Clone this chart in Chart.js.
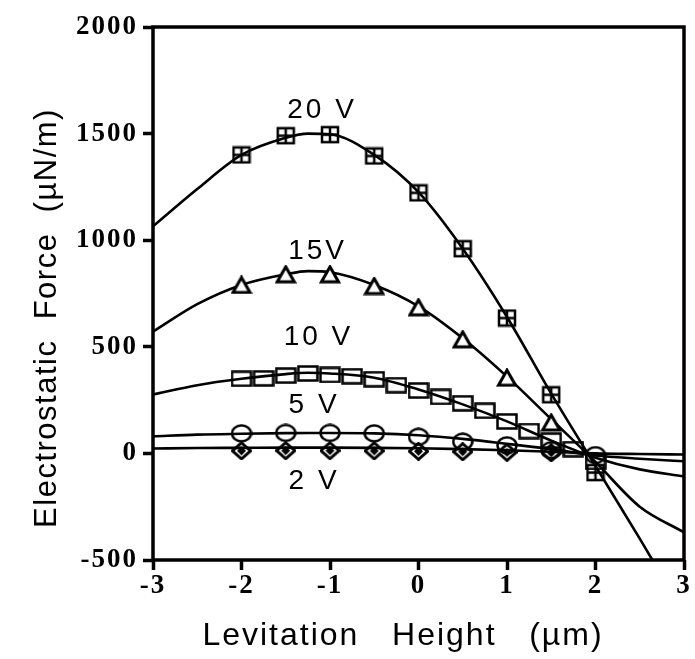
<!DOCTYPE html>
<html>
<head>
<meta charset="utf-8">
<script src="https://cdn.jsdelivr.net/npm/chart.js@4.4.1/dist/chart.umd.min.js"></script>
<style>
  html, body { margin: 0; padding: 0; background: #fff; }
  #wrap { width: 695px; height: 659px; position: relative; }
</style>
</head>
<body>
<div id="wrap"><canvas id="forceChart"></canvas></div>
<script>
'use strict';

// --- data ---
const curveX = [-3, -2.5, -2, -1.5, -1.25, -1, -0.5, 0, 0.5, 1, 1.5, 2, 2.5, 3];
const curve20 = [1065, 1240, 1400, 1480, 1500, 1497, 1400, 1225, 960, 640, 280, -60, -400, -750];
const curve15 = [571, 700, 790, 840, 855, 850, 790, 690, 540, 360, 160, -40, -250, -370];
const curve10 = [276, 320, 350, 372, 378, 375, 355, 300, 230, 150, 60, -20, -75, -108];
const curve5 = [80, 88, 92, 95, 96, 96, 94, 85, 68, 45, 20, -10, -25, -37];
const curve2 = [23, 25, 26, 27, 27, 27, 26, 24, 20, 15, 8, 0, -3, -5];

const halfStepX = [-2, -1.5, -1, -0.5, 0, 0.5, 1, 1.5, 2];
const shortHalfStepX = [-2, -1.5, -1, -0.5, 0, 0.5, 1, 1.5];
const quarterStepX = [-2, -1.75, -1.5, -1.25, -1, -0.75, -0.5, -0.25, 0, 0.25, 0.5, 0.75, 1, 1.25, 1.5, 1.75, 2];

const meas20 = [1400, 1490, 1495, 1395, 1222, 960, 635, 275, -90];
const meas15 = [790, 840, 840, 785, 685, 535, 355, 145];
const meas10 = [350, 352, 365, 375, 368, 362, 348, 320, 295, 265, 235, 200, 150, 105, 60, 20, -40];
const meas5 = [94, 96, 96, 94, 78, 55, 38, 15, -8];
const meas2 = [12, 13, 13, 12, 10, 8, 5, 3];

const voltLabels = ['20 V', '15V', '10 V', '5 V', '2 V'];
const voltLabelX = [-1.09, -1.14, -1.13, -1.18, -1.18];
const voltLabelY = [1611, 950, 543, 225, -131];

const xTicks = [-3, -2, -1, 0, 1, 2, 3];
const yTicks = [-500, 0, 500, 1000, 1500, 2000];

const toPoints = (xs, ys) => xs.map((x, i) => ({ x: x, y: ys[i] }));

// --- marker glyphs (the scan is slightly stretched sideways) ---
function makeMarker(w, h, draw) {
    const c = document.createElement('canvas');
    c.width = w; c.height = h;
    const g = c.getContext('2d');
    g.strokeStyle = '#000';
    g.fillStyle = '#000';
    g.lineWidth = 2.5;
    draw(g, w, h);
    return c;
}

const plusSquare = makeMarker(20, 19, (g, w, h) => {
    g.strokeRect(2, 2, w - 4, h - 4);
    g.beginPath();
    g.moveTo(w / 2, 2); g.lineTo(w / 2, h - 2);
    g.moveTo(2, h / 2); g.lineTo(w - 2, h / 2);
    g.stroke();
});
const triangle = makeMarker(22, 19, (g, w, h) => {
    g.lineWidth = 3;
    g.beginPath();
    g.moveTo(w / 2, 2); g.lineTo(w - 2.5, h - 2); g.lineTo(2.5, h - 2);
    g.closePath();
    g.fillStyle = '#fff';
    g.fill();
    g.stroke();
});
const openSquare = makeMarker(22, 17, (g, w, h) => {
    g.strokeRect(1.5, 1.5, w - 3, h - 3);
});
const openCircle = makeMarker(22, 19, (g, w, h) => {
    g.beginPath();
    g.ellipse(w / 2, h / 2, w / 2 - 1.5, h / 2 - 1.5, 0, 0, Math.PI * 2);
    g.stroke();
});
const diamond = makeMarker(21, 19, (g, w, h) => {
    g.lineWidth = 3;
    g.beginPath();
    g.moveTo(w / 2, 1.5); g.lineTo(w - 1.5, h / 2); g.lineTo(w / 2, h - 1.5); g.lineTo(1.5, h / 2);
    g.closePath();
    g.stroke();
    g.beginPath();
    g.moveTo(w / 2, 5); g.lineTo(w - 6, h / 2); g.lineTo(w / 2, h - 5); g.lineTo(6, h / 2);
    g.closePath();
    g.fill();
});

function measured(label, xs, ys, glyph) {
    return {
        label: label,
        data: toPoints(xs, ys),
        showLine: false,
        pointStyle: glyph,
        pointRadius: 10,
        pointHoverRadius: 10
    };
}
function curve(label, ys) {
    return {
        label: label,
        data: toPoints(curveX, ys),
        borderColor: '#000',
        borderWidth: 2.6,
        pointRadius: 0,
        cubicInterpolationMode: 'monotone',
        fill: false
    };
}

// --- plugins: frame, letter spacing, text labels ---
const scanLook = {
    id: 'scanLook',
    beforeDraw(chart) {
        chart.ctx.letterSpacing = '2px';
    },
    afterDatasetsDraw(chart) {
        const { ctx, chartArea: a } = chart;
        ctx.save();
        ctx.strokeStyle = '#000';
        ctx.lineWidth = 3.5;
        ctx.strokeRect(a.left, a.top, a.right - a.left, a.bottom - a.top);
        ctx.restore();
    },
    afterDraw(chart) {
        const { ctx, scales } = chart;
        ctx.save();
        ctx.fillStyle = '#000';
        ctx.textAlign = 'center';
        ctx.textBaseline = 'middle';

        ctx.font = '28px "Liberation Sans", Arial, sans-serif';
        ctx.letterSpacing = '3px';
        voltLabels.forEach((t, i) => {
            ctx.fillText(t, scales.x.getPixelForValue(voltLabelX[i]), scales.y.getPixelForValue(voltLabelY[i]));
        });

        ctx.font = '32px "Liberation Sans", Arial, sans-serif';
        ctx.letterSpacing = '2px';
        ctx.fillText('Levitation   Height   (µm)', 403, 636);

        ctx.font = '31px "Liberation Sans", Arial, sans-serif';
        ctx.letterSpacing = '1.5px';
        ctx.translate(47, 318);
        ctx.rotate(-Math.PI / 2);
        ctx.fillText('Electrostatic  Force  (µN/m)', 0, 0);
        ctx.restore();
    }
};

const tickFont = { family: '"Liberation Serif", "Times New Roman", serif', size: 27, weight: 'bold' };

new Chart(document.getElementById('forceChart'), {
    type: 'line',
    data: {
        datasets: [
            measured('20 V data', halfStepX, meas20, plusSquare),
            measured('15 V data', shortHalfStepX, meas15, triangle),
            measured('10 V data', quarterStepX, meas10, openSquare),
            measured('5 V data', halfStepX, meas5, openCircle),
            measured('2 V data', shortHalfStepX, meas2, diamond),
            curve('20 V', curve20),
            curve('15 V', curve15),
            curve('10 V', curve10),
            curve('5 V', curve5),
            curve('2 V', curve2)
        ]
    },
    options: {
        responsive: true, maintainAspectRatio: false,
        animation: false,
        layout: { padding: { left: 0, top: 27, right: 7, bottom: 0 } },
        plugins: { legend: { display: false }, tooltip: { enabled: false } },
        scales: {
            x: {
                type: 'linear', min: -3, max: 3,
                afterFit: (s) => { s.height = 99; },
                afterBuildTicks: (s) => { s.ticks = xTicks.map(v => ({ value: v })); },
                border: { display: false },
                grid: { drawOnChartArea: false, drawTicks: true, tickLength: 10, tickWidth: 3.5, tickColor: '#000' },
                ticks: { color: '#000', font: tickFont, padding: 0, maxRotation: 0, callback: v => String(v) }
            },
            y: {
                type: 'linear', min: -500, max: 2000,
                afterFit: (s) => { s.width = 153; },
                afterBuildTicks: (s) => { s.ticks = yTicks.map(v => ({ value: v })); },
                border: { display: false },
                grid: { drawOnChartArea: false, drawTicks: true, tickLength: 10, tickWidth: 3.5, tickColor: '#000' },
                ticks: { color: '#000', font: tickFont, padding: 5, callback: v => String(v) }
            }
        }
    },
    plugins: [scanLook]
});
</script>
</body>
</html>
